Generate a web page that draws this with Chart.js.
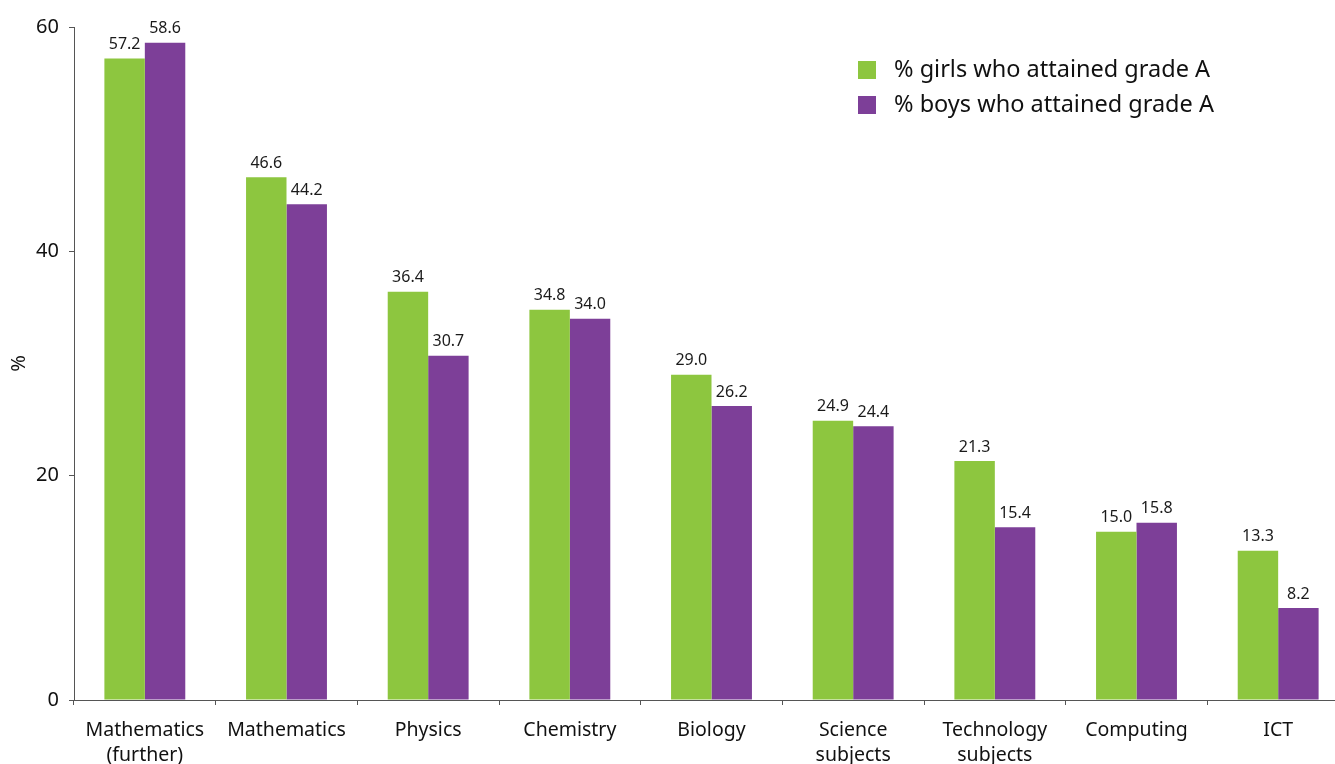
<!DOCTYPE html>
<html>
<head>
<meta charset="utf-8">
<title>Grade A attainment by subject</title>
<script src="https://cdn.jsdelivr.net/npm/chart.js@4.4.1/dist/chart.umd.min.js"></script>
<style>
    html, body { margin: 0; padding: 0; background: #fff; overflow: hidden; }
    #wrap { width: 1350px; height: 764px; position: relative; }
</style>
</head>
<body>
<div id="wrap"><canvas id="chart"></canvas></div>
<script>
// Chart data
const subjects = [
    ["Mathematics", "(further)"], "Mathematics", "Physics", "Chemistry", "Biology",
    ["Science", "subjects"], ["Technology", "subjects"], "Computing", "ICT"
];
const girlsPct = [57.2, 46.6, 36.4, 34.8, 29.0, 24.9, 21.3, 15.0, 13.3];
const boysPct = [58.6, 44.2, 30.7, 34.0, 26.2, 24.4, 15.4, 15.8, 8.2];
const seriesNames = ["% girls who attained grade A", "% boys who attained grade A"];
const yTicks = [0, 20, 40, 60];

const GREEN = "#8dc63f";
const PURPLE = "#7d3f98";
const FONT = "'Noto Sans', 'DejaVu Sans', sans-serif";

// Value labels above each bar
const barLabels = {
    id: "barLabels",
    afterDatasetsDraw(chart) {
        const ctx = chart.ctx;
        ctx.save();
        ctx.font = "16px " + FONT;
        ctx.fillStyle = "#1a1a1a";
        ctx.textAlign = "center";
        ctx.textBaseline = "bottom";
        chart.data.datasets.forEach((ds, i) => {
            chart.getDatasetMeta(i).data.forEach((bar, j) => {
                ctx.fillText(ds.data[j].toFixed(1), bar.x, bar.y - 6);
            });
        });
        ctx.restore();
    }
};

// Legend in the top right of the plot
const boxLegend = {
    id: "boxLegend",
    afterDraw(chart) {
        const ctx = chart.ctx;
        ctx.save();
        ctx.font = "23.5px " + FONT;
        ctx.textBaseline = "middle";
        chart.data.datasets.forEach((ds, i) => {
            const y = 70 + i * 35;
            ctx.fillStyle = ds.backgroundColor;
            ctx.fillRect(858, y - 9, 18, 18);
            ctx.fillStyle = "#111";
            ctx.fillText(ds.label, 894, y);
        });
        ctx.restore();
    }
};

new Chart(document.getElementById("chart"), {
    type: "bar",
    data: {
        labels: subjects,
        datasets: [
            { label: seriesNames[0], data: girlsPct, backgroundColor: GREEN },
            { label: seriesNames[1], data: boysPct, backgroundColor: PURPLE }
        ]
    },
    options: {
        responsive: true,
        maintainAspectRatio: false,
        animation: false,
        devicePixelRatio: 1,
        datasets: { bar: { barPercentage: 1, categoryPercentage: 0.571 } },
        layout: { padding: { top: 27, right: 1, left: 0, bottom: 0 } },
        plugins: {
            legend: { display: false },
            tooltip: { enabled: false }
        },
        scales: {
            x: {
                grid: { display: true, drawOnChartArea: false, drawTicks: true, tickLength: 5, color: "#555" },
                border: { display: true, color: "#555", width: 1 },
                ticks: { color: "#111", font: { family: FONT, size: 19.5, lineHeight: 1.28 }, padding: 13, maxRotation: 0, autoSkip: false },
                afterFit(scale) { scale.height = 64; }
            },
            y: {
                min: 0,
                max: 60,
                afterBuildTicks(scale) { scale.ticks = yTicks.map(v => ({ value: v })); },
                grid: { display: true, drawOnChartArea: false, drawTicks: true, tickLength: 5, color: "#555" },
                border: { display: true, color: "#555", width: 1 },
                ticks: { color: "#111", font: { family: FONT, size: 20 }, padding: 10 },
                title: { display: true, text: "%", color: "#111", font: { family: FONT, size: 20 }, padding: { top: 7, bottom: 0 } },
                afterFit(scale) { scale.width = 74; }
            }
        }
    },
    plugins: [barLabels, boxLegend]
});
</script>
</body>
</html>
